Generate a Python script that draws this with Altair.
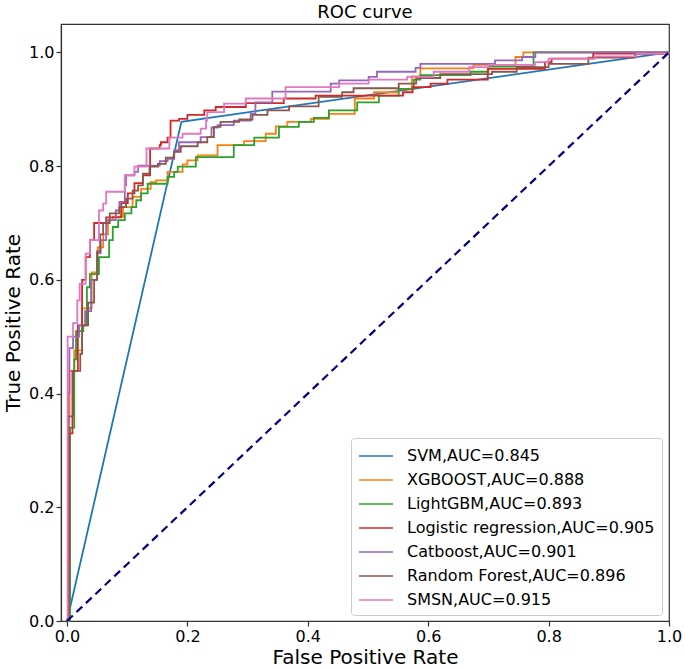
import altair as alt
import pandas as pd

# ---- data -------------------------------------------------------------
models = ["SVM", "XGBOOST", "LightGBM", "Logistic regression",
          "Catboost", "Random Forest", "SMSN"]
aucs = [0.845, 0.888, 0.893, 0.905, 0.901, 0.896, 0.915]
colors = ["#1f77b4", "#ff7f0e", "#2ca02c", "#d62728",
          "#9467bd", "#8c564b", "#e377c2"]

svm_fpr = [0.0, 0.19, 1.0]
svm_tpr = [0.0, 0.878, 1.0]

xgb_fpr = [0.0, 0.002, 0.004, 0.012, 0.025, 0.041, 0.051, 0.060, 0.068, 0.076,
           0.093, 0.109, 0.123, 0.139, 0.148, 0.167, 0.192, 0.200, 0.217, 0.250,
           0.294, 0.330, 0.347, 0.366, 0.405, 0.435, 0.478, 0.510, 0.550, 0.573,
           0.587, 0.675, 0.745, 0.758, 1.0]
xgb_tpr = [0.0, 0.36, 0.44, 0.476, 0.55, 0.613, 0.657, 0.68, 0.705, 0.711,
           0.728, 0.746, 0.76, 0.772, 0.775, 0.79, 0.803, 0.81, 0.819, 0.837,
           0.844, 0.857, 0.87, 0.878, 0.883, 0.892, 0.919, 0.93, 0.935, 0.958,
           0.972, 0.978, 0.992, 1.0, 1.0]

lgb_fpr = [0.0, 0.005, 0.012, 0.015, 0.027, 0.033, 0.038, 0.053, 0.070, 0.076,
           0.085, 0.096, 0.107, 0.115, 0.123, 0.134, 0.167, 0.178, 0.184, 0.214,
           0.277, 0.311, 0.352, 0.385, 0.410, 0.435, 0.482, 0.518, 0.551, 0.576,
           0.587, 0.670, 0.700, 0.775, 1.0]
lgb_tpr = [0.0, 0.34, 0.46, 0.51, 0.52, 0.587, 0.61, 0.64, 0.67, 0.693,
           0.705, 0.717, 0.728, 0.74, 0.752, 0.769, 0.781, 0.79, 0.799, 0.816,
           0.837, 0.85, 0.869, 0.878, 0.885, 0.898, 0.912, 0.924, 0.936, 0.952,
           0.96, 0.966, 0.975, 1.0, 1.0]

lr_fpr = [0.0, 0.003, 0.004, 0.009, 0.018, 0.025, 0.031, 0.038, 0.045, 0.065,
          0.090, 0.101, 0.112, 0.126, 0.138, 0.154, 0.156, 0.167, 0.172, 0.186,
          0.200, 0.228, 0.247, 0.297, 0.360, 0.413, 0.558, 0.574, 0.604, 0.632,
          0.699, 0.794, 0.805, 0.874, 1.0]
lr_tpr = [0.0, 0.10, 0.33, 0.44, 0.52, 0.60, 0.64, 0.67, 0.70, 0.71,
          0.735, 0.752, 0.77, 0.784, 0.831, 0.837, 0.842, 0.85, 0.88, 0.883,
          0.89, 0.898, 0.904, 0.911, 0.919, 0.924, 0.93, 0.939, 0.945, 0.952,
          0.971, 0.983, 0.989, 0.998, 1.0]

cat_fpr = [0.0, 0.002, 0.004, 0.010, 0.020, 0.030, 0.040, 0.050, 0.056, 0.065,
           0.081, 0.087, 0.096, 0.098, 0.112, 0.118, 0.154, 0.167, 0.178, 0.186,
           0.222, 0.240, 0.250, 0.277, 0.305, 0.313, 0.341, 0.438, 0.452, 0.501,
           0.515, 0.579, 0.587, 0.711, 0.756, 0.778, 1.0]
cat_tpr = [0.0, 0.40, 0.48, 0.50, 0.52, 0.545, 0.60, 0.647, 0.67, 0.705,
           0.722, 0.737, 0.766, 0.784, 0.79, 0.801, 0.809, 0.813, 0.828, 0.842,
           0.851, 0.868, 0.872, 0.88, 0.892, 0.912, 0.931, 0.945, 0.951, 0.957,
           0.966, 0.973, 0.98, 0.986, 0.992, 1.0, 1.0]

rf_fpr = [0.0, 0.003, 0.010, 0.022, 0.025, 0.035, 0.045, 0.050, 0.055, 0.060,
          0.071, 0.087, 0.098, 0.109, 0.118, 0.126, 0.137, 0.151, 0.164, 0.178,
          0.189, 0.217, 0.233, 0.244, 0.255, 0.286, 0.308, 0.333, 0.369, 0.418,
          0.457, 0.476, 0.551, 0.580, 0.620, 0.706, 0.747, 0.800, 0.866, 0.944, 1.0]
rf_tpr = [0.0, 0.36, 0.44, 0.47, 0.52, 0.56, 0.60, 0.65, 0.68, 0.70,
          0.717, 0.728, 0.743, 0.757, 0.766, 0.787, 0.799, 0.804, 0.815, 0.825,
          0.835, 0.842, 0.851, 0.869, 0.878, 0.882, 0.89, 0.898, 0.905, 0.922,
          0.93, 0.937, 0.945, 0.955, 0.962, 0.966, 0.974, 0.98, 0.991, 0.998, 1.0]

smsn_fpr = [0.0, 0.001, 0.010, 0.017, 0.021, 0.031, 0.038, 0.053, 0.060, 0.065,
            0.096, 0.112, 0.132, 0.170, 0.192, 0.222, 0.231, 0.233, 0.261, 0.297,
            0.363, 0.452, 0.501, 0.565, 0.609, 0.668, 0.700, 0.778, 0.800, 0.877,
            0.946, 1.0]
smsn_tpr = [0.0, 0.50, 0.524, 0.564, 0.593, 0.646, 0.67, 0.722, 0.734, 0.755,
            0.784, 0.799, 0.831, 0.85, 0.857, 0.866, 0.88, 0.895, 0.91, 0.919,
            0.939, 0.945, 0.952, 0.957, 0.966, 0.974, 0.978, 0.983, 0.989, 0.993,
            0.998, 1.0]

diag_fpr = [0.0, 1.0]
diag_tpr = [0.0, 1.0]

tick_vals = [0.0, 0.2, 0.4, 0.6, 0.8, 1.0]

# ---- tables -----------------------------------------------------------
labels = [f"{m},AUC={a:.3f}" for m, a in zip(models, aucs)]
curves = [(svm_fpr, svm_tpr), (xgb_fpr, xgb_tpr), (lgb_fpr, lgb_tpr),
          (lr_fpr, lr_tpr), (cat_fpr, cat_tpr), (rf_fpr, rf_tpr),
          (smsn_fpr, smsn_tpr)]
rows = []
for k, (lab, (fx, ty)) in enumerate(zip(labels, curves)):
    for i, (a, b) in enumerate(zip(fx, ty)):
        rows.append({"model": lab, "k": k, "i": i, "fpr": a, "tpr": b})
df = pd.DataFrame(rows)
df_svm = df[df["k"] == 0]
df_step = df[df["k"] > 0]
df_diag = pd.DataFrame({"fpr": diag_fpr, "tpr": diag_tpr})

FONT = "DejaVu Sans"

x_enc = alt.X("fpr:Q", scale=alt.Scale(domain=[-0.01, 1], nice=False, zero=False),
              axis=alt.Axis(values=tick_vals, format=".1f",
                            title="False Positive Rate"))
y_enc = alt.Y("tpr:Q", scale=alt.Scale(domain=[0, 1.05], nice=False, zero=False),
              axis=alt.Axis(values=tick_vals, format=".1f",
                            title="True Positive Rate"))
color_enc = alt.Color(
    "model:N",
    scale=alt.Scale(domain=labels, range=colors),
    legend=alt.Legend(
        title=None, orient="none", legendX=290, legendY=414,
        symbolType="M-1,0L2.4,0", symbolSize=400, symbolStrokeWidth=1.6,
        symbolOffset=0, labelOffset=27, rowPadding=5, padding=7,
        labelFontSize=16, labelFont=FONT, labelColor="black", labelLimit=0,
        strokeColor="#cccccc", cornerRadius=3, fillColor="white",
    ),
)

svm_layer = alt.Chart(df_svm).mark_line(strokeWidth=1.8, interpolate="linear").encode(
    x=x_enc, y=y_enc, color=color_enc, order="i:Q")
step_layer = alt.Chart(df_step).mark_line(strokeWidth=1.8, interpolate="step-after").encode(
    x=x_enc, y=y_enc, color=color_enc, order="i:Q")
diag_layer = alt.Chart(df_diag).mark_line(
    color="#000080", strokeWidth=2.2, strokeDash=[8, 5]).encode(x="fpr:Q", y="tpr:Q")

chart = alt.layer(svm_layer, step_layer, diag_layer).properties(
    width=608, height=597,
    title=alt.TitleParams("ROC curve", fontSize=18, font=FONT, fontWeight="normal",
                          color="black", offset=2, anchor="middle"),
    autosize=alt.AutoSizeParams(type="none"),
    padding={"left": 61, "top": 24, "right": 16, "bottom": 47},
).configure(font=FONT).configure_view(
    stroke="#333333", strokeWidth=1.2
).configure_axis(
    grid=False, domainColor="#333333", domainWidth=1.2, tickColor="#333333",
    tickSize=5, tickWidth=1.2, labelFontSize=16, labelColor="black",
    labelFont=FONT, titleFont=FONT, titleFontSize=20, titleFontWeight="normal",
    titleColor="black", labelFlush=False, labelOverlap=False, labelPadding=2,
).configure_axisX(titlePadding=3).configure_axisY(titlePadding=5)

chart.save("out.html", embed_options={"renderer": "svg", "actions": False})
